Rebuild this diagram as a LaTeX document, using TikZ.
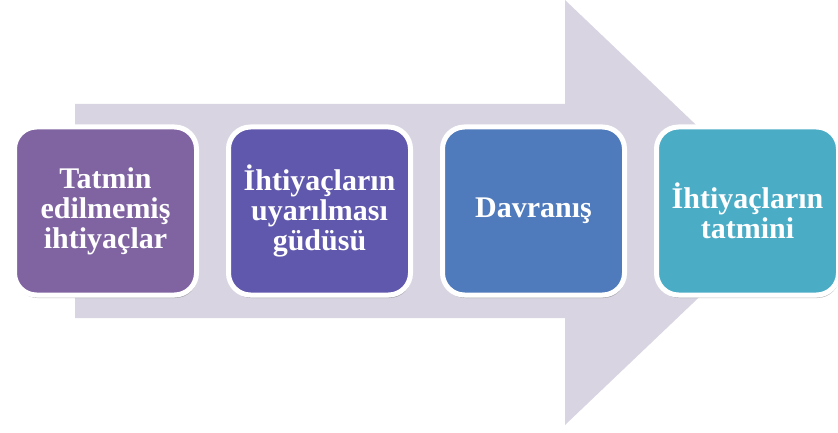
\documentclass[tikz,border=0pt]{standalone}
\usepackage{fontspec}
\setmainfont{Liberation Serif}
\usetikzlibrary{positioning,shadows}
\definecolor{arrowgray}{RGB}{216,212,226}
\definecolor{stepA}{RGB}{128,100,162}
\definecolor{stepB}{RGB}{96,88,172}
\definecolor{stepC}{RGB}{79,122,187}
\definecolor{stepD}{RGB}{75,172,198}
\begin{document}
\begin{tikzpicture}[x=1pt,y=1pt,
  stepbox/.style={draw=white,line width=5pt,rounded corners=22pt,
    minimum width=182pt,minimum height=168pt,align=center,text=white,
    font=\fontsize{30}{30}\selectfont\bfseries,
    drop shadow={shadow xshift=1pt,shadow yshift=-3pt,opacity=0.35,fill=black!70}}]
\useasboundingbox (0,0) rectangle (838,432);
% big arrow behind
\fill[arrowgray] (75,328) -- (565,328) -- (565,432) -- (788,219.5) -- (565,7) -- (565,114) -- (75,114) -- cycle;
% steps
\node[stepbox,fill=stepA] (unmet) at (105.5,221) {Tatmin\\edilmemiş\\ihtiyaçlar};
\node[stepbox,fill=stepB,right=27pt of unmet] (drive) {İhtiyaçların\\uyarılması\\güdüsü};
\node[stepbox,fill=stepC,right=27pt of drive] (behav) {Davranış};
\node[stepbox,fill=stepD,right=27pt of behav] (satis) {İhtiyaçların\\tatmini};
\end{tikzpicture}
\end{document}
